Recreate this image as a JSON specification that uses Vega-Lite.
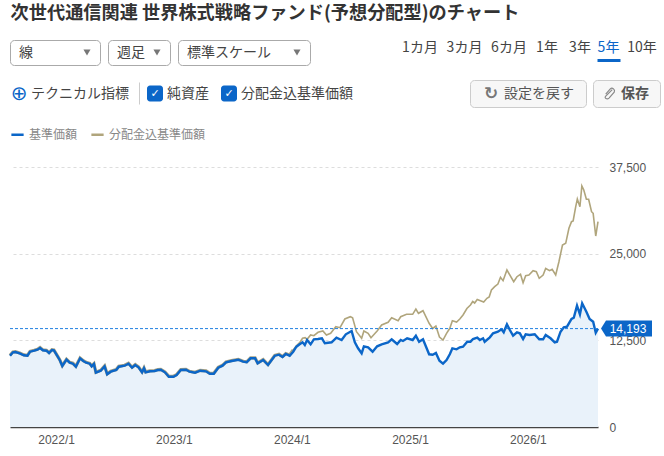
{
"$schema": "https://vega.github.io/schema/vega-lite/v6.json",
"padding": {"left": 3, "top": 4, "right": 0, "bottom": 0},
"background": "white",
"title": {"text": "次世代通信関連 世界株式戦略ファンド(予想分配型)のチャート", "anchor": "start", "font": "Noto Sans CJK JP", "fontSize": 18.2, "fontWeight": "bold", "color": "#333333", "offset": 16, "dx": 7},
"config": {
  "view": {"stroke": null},
  "font": "Noto Sans CJK JP",
  "text": {"font": "Noto Sans CJK JP", "fontSize": 14, "color": "#444444"},
  "axis": {"labelFont": "Liberation Sans", "labelFontSize": 12, "labelColor": "#555555"}
},
"datasets": {
  "base": [
    {"date":"2021-08-02","value":10284},{"date":"2021-08-11","value":10774},{"date":"2021-08-19","value":10817},{"date":"2021-09-01","value":10630},{"date":"2021-09-14","value":10341},{"date":"2021-09-25","value":10284},{"date":"2021-10-03","value":10861},{"date":"2021-10-16","value":11005},{"date":"2021-10-26","value":11149},{"date":"2021-11-03","value":11394},{"date":"2021-11-12","value":11062},{"date":"2021-11-23","value":11005},{"date":"2021-12-01","value":10673},{"date":"2021-12-10","value":11106},{"date":"2021-12-16","value":11062},{"date":"2021-12-26","value":10284},
    {"date":"2022-01-03","value":9663},{"date":"2022-01-11","value":8798},{"date":"2022-01-24","value":9707},{"date":"2022-02-03","value":9274},{"date":"2022-02-13","value":9130},{"date":"2022-02-22","value":8697},{"date":"2022-03-07","value":9909},{"date":"2022-03-17","value":9519},{"date":"2022-03-26","value":9274},{"date":"2022-04-06","value":9130},{"date":"2022-04-12","value":8755},{"date":"2022-04-19","value":9086},{"date":"2022-04-25","value":7832},{"date":"2022-05-10","value":8120},{"date":"2022-05-22","value":8755},{"date":"2022-05-30","value":7601},{"date":"2022-06-10","value":7976},{"date":"2022-06-27","value":8221},{"date":"2022-07-05","value":8697},{"date":"2022-07-23","value":8841},{"date":"2022-08-04","value":9130},{"date":"2022-08-15","value":8553},{"date":"2022-08-25","value":8942},{"date":"2022-09-04","value":8611},{"date":"2022-09-15","value":7889},{"date":"2022-09-21","value":8466},{"date":"2022-09-26","value":7889},{"date":"2022-10-09","value":8034},{"date":"2022-10-24","value":8077},{"date":"2022-11-03","value":8221},{"date":"2022-11-12","value":8264},{"date":"2022-11-25","value":7889},{"date":"2022-12-07","value":7255},{"date":"2022-12-21","value":7255},{"date":"2022-12-31","value":7500},
    {"date":"2023-01-13","value":8221},{"date":"2023-01-29","value":8264},{"date":"2023-02-09","value":7976},{"date":"2023-02-26","value":7832},{"date":"2023-03-14","value":8120},{"date":"2023-04-01","value":8034},{"date":"2023-04-13","value":7687},{"date":"2023-04-25","value":7687},{"date":"2023-05-09","value":8553},{"date":"2023-05-22","value":8841},{"date":"2023-06-02","value":9332},{"date":"2023-06-19","value":9519},{"date":"2023-07-10","value":9707},{"date":"2023-07-25","value":9418},{"date":"2023-08-05","value":9332},{"date":"2023-08-17","value":9909},{"date":"2023-08-31","value":9909},{"date":"2023-09-08","value":9187},{"date":"2023-09-25","value":9663},{"date":"2023-10-10","value":8942},{"date":"2023-10-31","value":10284},{"date":"2023-11-13","value":10428},{"date":"2023-11-24","value":10096},{"date":"2023-12-04","value":10529},{"date":"2023-12-16","value":10284},{"date":"2023-12-27","value":10861},
    {"date":"2024-01-06","value":11582},{"date":"2024-01-16","value":11928},{"date":"2024-01-25","value":12216},{"date":"2024-02-01","value":11827},{"date":"2024-02-08","value":12548},{"date":"2024-02-19","value":11928},{"date":"2024-02-29","value":12649},{"date":"2024-03-13","value":12692},{"date":"2024-03-25","value":12793},{"date":"2024-04-03","value":12072},{"date":"2024-04-24","value":12216},{"date":"2024-05-09","value":12880},{"date":"2024-05-25","value":12548},{"date":"2024-06-07","value":13370},{"date":"2024-06-25","value":13846},{"date":"2024-07-05","value":12216},{"date":"2024-07-15","value":11351},{"date":"2024-07-26","value":10630},{"date":"2024-08-02","value":11639},{"date":"2024-08-15","value":11495},{"date":"2024-08-29","value":10861},{"date":"2024-09-12","value":11639},{"date":"2024-09-26","value":11928},{"date":"2024-10-16","value":12216},{"date":"2024-10-27","value":12649},{"date":"2024-11-13","value":11971},{"date":"2024-11-24","value":12548},{"date":"2024-12-01","value":12404},{"date":"2024-12-14","value":12793},{"date":"2024-12-31","value":12548},
    {"date":"2025-01-10","value":13168},{"date":"2025-01-20","value":12303},{"date":"2025-02-01","value":12649},{"date":"2025-02-20","value":10486},{"date":"2025-03-03","value":10428},{"date":"2025-03-13","value":10673},{"date":"2025-03-24","value":9562},{"date":"2025-04-04","value":9130},{"date":"2025-04-15","value":9663},{"date":"2025-04-25","value":10486},{"date":"2025-05-03","value":11351},{"date":"2025-05-16","value":11207},{"date":"2025-05-26","value":11495},{"date":"2025-06-05","value":11582},{"date":"2025-06-18","value":12303},{"date":"2025-06-28","value":12303},{"date":"2025-07-06","value":12692},{"date":"2025-07-19","value":12880},{"date":"2025-07-27","value":12548},{"date":"2025-08-06","value":12793},{"date":"2025-08-11","value":12303},{"date":"2025-08-27","value":12937},{"date":"2025-09-06","value":13514},{"date":"2025-09-21","value":13745},{"date":"2025-10-02","value":14091},{"date":"2025-10-09","value":13659},{"date":"2025-10-19","value":14812},{"date":"2025-10-28","value":13990},{"date":"2025-11-07","value":13168},{"date":"2025-11-19","value":13659},{"date":"2025-11-28","value":13514},{"date":"2025-12-08","value":12692},{"date":"2025-12-16","value":13370},{"date":"2025-12-28","value":13269},
    {"date":"2026-01-13","value":13370},{"date":"2026-01-27","value":12649},{"date":"2026-02-08","value":12649},{"date":"2026-02-16","value":13269},{"date":"2026-03-03","value":12793},{"date":"2026-03-16","value":12216},{"date":"2026-03-23","value":12303},{"date":"2026-04-03","value":13745},{"date":"2026-04-13","value":14380},{"date":"2026-04-23","value":14466},{"date":"2026-05-07","value":15577},{"date":"2026-05-14","value":15764},{"date":"2026-05-24","value":17495},{"date":"2026-06-02","value":16255},{"date":"2026-06-09","value":17841},{"date":"2026-06-22","value":16630},{"date":"2026-07-02","value":15577},{"date":"2026-07-13","value":15187},{"date":"2026-07-21","value":13601},{"date":"2026-07-28","value":14193}
  ],
  "total": [
    {"date":"2021-08-02","value":10340},{"date":"2021-08-11","value":10830},{"date":"2021-08-19","value":10875},{"date":"2021-09-01","value":10690},{"date":"2021-09-14","value":10400},{"date":"2021-09-25","value":10340},{"date":"2021-10-03","value":10920},{"date":"2021-10-16","value":11065},{"date":"2021-10-26","value":11210},{"date":"2021-11-03","value":11455},{"date":"2021-11-12","value":11120},{"date":"2021-11-23","value":11065},{"date":"2021-12-01","value":10730},{"date":"2021-12-10","value":11165},{"date":"2021-12-16","value":11120},{"date":"2021-12-26","value":10340},
    {"date":"2022-01-03","value":9720},{"date":"2022-01-11","value":8855},{"date":"2022-01-24","value":9765},{"date":"2022-02-03","value":9330},{"date":"2022-02-13","value":9190},{"date":"2022-02-22","value":8755},{"date":"2022-03-07","value":9965},{"date":"2022-03-17","value":9575},{"date":"2022-03-26","value":9330},{"date":"2022-04-06","value":9190},{"date":"2022-04-12","value":8815},{"date":"2022-04-19","value":9145},{"date":"2022-04-25","value":7890},{"date":"2022-05-10","value":8180},{"date":"2022-05-22","value":8815},{"date":"2022-05-30","value":7660},{"date":"2022-06-10","value":8035},{"date":"2022-06-27","value":8280},{"date":"2022-07-05","value":8755},{"date":"2022-07-23","value":8900},{"date":"2022-08-04","value":9190},{"date":"2022-08-15","value":8610},{"date":"2022-08-25","value":9000},{"date":"2022-09-04","value":8670},{"date":"2022-09-15","value":7945},{"date":"2022-09-21","value":8525},{"date":"2022-09-26","value":7945},{"date":"2022-10-09","value":8090},{"date":"2022-10-24","value":8135},{"date":"2022-11-03","value":8280},{"date":"2022-11-12","value":8320},{"date":"2022-11-25","value":7945},{"date":"2022-12-07","value":7315},{"date":"2022-12-21","value":7315},{"date":"2022-12-31","value":7560},
    {"date":"2023-01-13","value":8280},{"date":"2023-01-29","value":8320},{"date":"2023-02-09","value":8035},{"date":"2023-02-26","value":7890},{"date":"2023-03-14","value":8180},{"date":"2023-04-01","value":8090},{"date":"2023-04-13","value":7745},{"date":"2023-04-25","value":7745},{"date":"2023-05-09","value":8610},{"date":"2023-05-22","value":8900},{"date":"2023-06-02","value":9390},{"date":"2023-06-19","value":9575},{"date":"2023-07-10","value":9765},{"date":"2023-07-25","value":9475},{"date":"2023-08-05","value":9390},{"date":"2023-08-17","value":9965},{"date":"2023-08-31","value":9965},{"date":"2023-09-08","value":9245},{"date":"2023-09-25","value":9720},{"date":"2023-10-10","value":9000},{"date":"2023-10-31","value":10340},{"date":"2023-11-13","value":10485},{"date":"2023-11-24","value":10155},{"date":"2023-12-04","value":10590},{"date":"2023-12-16","value":10400},{"date":"2023-12-27","value":11106},
    {"date":"2024-01-06","value":11726},{"date":"2024-01-16","value":12159},{"date":"2024-01-25","value":12793},{"date":"2024-02-02","value":12880},{"date":"2024-02-08","value":12649},{"date":"2024-02-19","value":13269},{"date":"2024-02-29","value":13168},{"date":"2024-03-13","value":13659},{"date":"2024-03-28","value":13846},{"date":"2024-04-08","value":13269},{"date":"2024-04-21","value":13514},{"date":"2024-05-07","value":14466},{"date":"2024-05-20","value":14322},{"date":"2024-06-04","value":15577},{"date":"2024-06-21","value":15909},{"date":"2024-06-28","value":15764},{"date":"2024-07-10","value":13745},{"date":"2024-07-26","value":12793},{"date":"2024-08-02","value":13846},{"date":"2024-08-15","value":13514},{"date":"2024-08-24","value":12880},{"date":"2024-09-12","value":13846},{"date":"2024-09-26","value":14711},{"date":"2024-10-16","value":15101},{"date":"2024-10-27","value":15764},{"date":"2024-11-16","value":15332},{"date":"2024-11-24","value":15909},{"date":"2024-12-12","value":16255},{"date":"2024-12-31","value":16255},
    {"date":"2025-01-10","value":17019},{"date":"2025-01-18","value":16399},{"date":"2025-02-01","value":16774},{"date":"2025-02-20","value":14957},{"date":"2025-03-03","value":14207},{"date":"2025-03-13","value":14567},{"date":"2025-03-24","value":12981},{"date":"2025-04-04","value":12548},{"date":"2025-04-15","value":13514},{"date":"2025-04-25","value":14235},{"date":"2025-05-03","value":15332},{"date":"2025-05-16","value":15144},{"date":"2025-05-26","value":15577},{"date":"2025-06-05","value":16154},{"date":"2025-06-17","value":17091},{"date":"2025-06-28","value":17596},{"date":"2025-07-05","value":18101},{"date":"2025-07-11","value":17885},{"date":"2025-07-19","value":18389},{"date":"2025-07-27","value":18245},{"date":"2025-08-08","value":18029},{"date":"2025-08-18","value":18562},{"date":"2025-08-25","value":18750},{"date":"2025-09-01","value":19760},{"date":"2025-09-11","value":20236},{"date":"2025-09-21","value":20625},{"date":"2025-09-29","value":21591},{"date":"2025-10-07","value":21101},{"date":"2025-10-19","value":22644},{"date":"2025-11-09","value":20956},{"date":"2025-11-19","value":21678},{"date":"2025-11-30","value":22024},{"date":"2025-12-08","value":20812},{"date":"2025-12-16","value":21822},{"date":"2025-12-26","value":21923},
    {"date":"2026-01-08","value":22543},{"date":"2026-01-18","value":22399},{"date":"2026-01-27","value":21447},{"date":"2026-02-08","value":21923},{"date":"2026-02-16","value":22860},{"date":"2026-02-28","value":22543},{"date":"2026-03-08","value":22745},{"date":"2026-03-19","value":21923},{"date":"2026-03-29","value":23841},{"date":"2026-04-09","value":26250},{"date":"2026-04-19","value":26495},{"date":"2026-04-29","value":28658},{"date":"2026-05-07","value":29610},{"date":"2026-05-12","value":29711},{"date":"2026-05-20","value":31774},{"date":"2026-05-25","value":32884},{"date":"2026-06-02","value":31774},{"date":"2026-06-08","value":34759},{"date":"2026-06-14","value":34183},{"date":"2026-06-22","value":32841},{"date":"2026-06-29","value":32841},{"date":"2026-07-08","value":31053},{"date":"2026-07-13","value":30822},{"date":"2026-07-21","value":27548},{"date":"2026-07-28","value":29610}
  ],
  "latest": [{"start":"2021-08-02","date":"2026-07-28","value":14193}]
},
"resolve": {"legend": {"stroke": "independent"}, "scale": {"stroke": "independent"}},
"bounds": "flush",
"spacing": 127,
"vconcat": [
  {"spacing": 40, "bounds": "flush", "vconcat": [
    {"spacing": 8, "bounds": "flush", "hconcat": [
      {"width": 90, "height": 25, "view": {"stroke": "#aaaaaa", "cornerRadius": 4}, "data": {"values": [{"label": "線"}]}, "layer": [
        {"mark": {"type": "text", "align": "left", "dx": -36}, "encoding": {"text": {"field": "label"}}},
        {"mark": {"type": "point", "shape": "triangle-down", "filled": true, "color": "#777777", "size": 50, "opacity": 1, "xOffset": 32}, "encoding": {}}
      ]},
      {"width": 62, "height": 25, "view": {"stroke": "#aaaaaa", "cornerRadius": 4}, "data": {"values": [{"label": "週足"}]}, "layer": [
        {"mark": {"type": "text", "align": "left", "dx": -22}, "encoding": {"text": {"field": "label"}}},
        {"mark": {"type": "point", "shape": "triangle-down", "filled": true, "color": "#777777", "size": 50, "opacity": 1, "xOffset": 18}, "encoding": {}}
      ]},
      {"width": 132, "height": 25, "view": {"stroke": "#aaaaaa", "cornerRadius": 4}, "data": {"values": [{"label": "標準スケール"}]}, "layer": [
        {"mark": {"type": "text", "align": "left", "dx": -57}, "encoding": {"text": {"field": "label"}}},
        {"mark": {"type": "point", "shape": "triangle-down", "filled": true, "color": "#777777", "size": 50, "opacity": 1, "xOffset": 53}, "encoding": {}}
      ]},
      {"spacing": 0, "bounds": "flush", "hconcat": [
        {"width": 124, "height": 20, "data": {"values": [{"label": "1カ月"}]}, "mark": {"type": "text", "dx": 40, "dy": -2}, "encoding": {"text": {"field": "label"}}},
        {"width": 45, "height": 20, "data": {"values": [{"label": "3カ月"}]}, "mark": {"type": "text", "dy": -2}, "encoding": {"text": {"field": "label"}}},
        {"width": 44, "height": 20, "data": {"values": [{"label": "6カ月"}]}, "mark": {"type": "text", "dy": -2}, "encoding": {"text": {"field": "label"}}},
        {"width": 32, "height": 20, "data": {"values": [{"label": "1年"}]}, "mark": {"type": "text", "dy": -2}, "encoding": {"text": {"field": "label"}}},
        {"width": 34, "height": 20, "data": {"values": [{"label": "3年"}]}, "mark": {"type": "text", "dy": -2}, "encoding": {"text": {"field": "label"}}},
        {"width": 23, "height": 20, "data": {"values": [{"label": "5年"}]}, "mark": {"type": "text", "dy": -2, "color": "#0b66c8"}, "encoding": {"text": {"field": "label"}, "x": {"field": "label", "type": "nominal", "title": null, "axis": {"labels": false, "ticks": false, "domainColor": "#0b66c8", "domainWidth": 3}}}},
        {"width": 44, "height": 20, "data": {"values": [{"label": "10年"}]}, "mark": {"type": "text", "dy": -2}, "encoding": {"text": {"field": "label"}}}
      ]}
    ]},
    {"spacing": 7, "center": true, "bounds": "flush", "hconcat": [
      {"width": 122, "height": 22, "data": {"values": [{"label": "テクニカル指標", "icon": "⊕"}]}, "layer": [
        {"mark": {"type": "text", "font": "DejaVu Sans", "fontSize": 20, "color": "#0b66c8", "dx": -52}, "encoding": {"text": {"field": "icon"}}},
        {"mark": {"type": "text", "align": "left", "dx": -40}, "encoding": {"text": {"field": "label"}}}
      ]},
      {"width": 1, "height": 22, "view": {"fill": "#cccccc"}, "data": {"values": [{"label": ""}]}, "mark": "text", "encoding": {"text": {"field": "label"}}},
      {"width": 16, "height": 16, "view": {"fill": "#0b66c8", "cornerRadius": 3}, "data": {"values": [{"label": "✓"}]}, "mark": {"type": "text", "font": "DejaVu Sans", "fontSize": 11, "fontWeight": "bold", "color": "white"}, "encoding": {"text": {"field": "label"}}},
      {"width": 44, "height": 22, "data": {"values": [{"label": "純資産"}]}, "mark": {"type": "text", "align": "left", "dx": -25}, "encoding": {"text": {"field": "label"}}},
      {"width": 16, "height": 16, "view": {"fill": "#0b66c8", "cornerRadius": 3}, "data": {"values": [{"label": "✓"}]}, "mark": {"type": "text", "font": "DejaVu Sans", "fontSize": 11, "fontWeight": "bold", "color": "white"}, "encoding": {"text": {"field": "label"}}},
      {"width": 219, "height": 22, "data": {"values": [{"label": "分配金込基準価額"}]}, "mark": {"type": "text", "align": "left", "dx": -112.5}, "encoding": {"text": {"field": "label"}}},
      {"width": 116, "height": 27, "view": {"fill": "#f7f7f7", "stroke": "#cccccc", "cornerRadius": 4}, "data": {"values": [{"label": "設定を戻す", "icon": "↻"}]}, "layer": [
        {"mark": {"type": "text", "font": "DejaVu Sans", "fontSize": 17, "fontWeight": "bold", "color": "#777777", "dx": -37}, "encoding": {"text": {"field": "icon"}}},
        {"mark": {"type": "text", "align": "left", "dx": -24, "color": "#555555"}, "encoding": {"text": {"field": "label"}}}
      ]},
      {"width": 67, "height": 27, "view": {"fill": "#f7f7f7", "stroke": "#cccccc", "cornerRadius": 4}, "data": {"values": [{"label": "保存"}]}, "layer": [
        {"mark": {"type": "point", "shape": "M0.5,-0.6 L-0.5,0.4 C-0.8,0.7 -0.3,1 0,0.7 L0.8,-0.2 C1,-0.6 0.5,-1 0.2,-0.7 L-0.5,0.1", "filled": false, "stroke": "#888888", "strokeWidth": 1.2, "opacity": 1, "size": 170, "xOffset": -17.5}, "encoding": {}},
        {"mark": {"type": "text", "align": "left", "dx": -5.5, "fontWeight": "bold", "color": "#555555"}, "encoding": {"text": {"field": "label"}}}
      ]}
    ]}
  ]},
  {
    "width": 588,
    "height": 260,
    "encoding": {
      "x": {"field": "date", "type": "temporal", "title": null,
        "scale": {"type": "utc", "domain": [{"year": 2021, "month": 8, "date": 2, "utc": true}, {"year": 2026, "month": 7, "date": 28, "utc": true}]},
        "axis": {"values": [{"year": 2022, "month": 1, "date": 1, "utc": true}, {"year": 2023, "month": 1, "date": 1, "utc": true}, {"year": 2024, "month": 1, "date": 1, "utc": true}, {"year": 2025, "month": 1, "date": 1, "utc": true}, {"year": 2026, "month": 1, "date": 1, "utc": true}], "labelExpr": "utcFormat(datum.value, '%Y/%-m')", "ticks": false, "grid": false, "domainColor": "#444444", "domainWidth": 1.5, "labelPadding": 7, "labelOffset": -3}},
      "y": {"field": "value", "type": "quantitative", "title": null, "scale": {"domain": [0, 37500]},
        "axis": {"orient": "right", "values": [0, 12500, 25000, 37500], "labelExpr": "format(datum.value, ',')", "domain": false, "ticks": false, "labelPadding": 11, "gridColor": "#dddddd", "gridDash": [3, 3]}}
    },
    "layer": [
      {"data": {"name": "base"}, "mark": {"type": "area", "color": "#e9f2fa"}},
      {"data": {"name": "total"}, "transform": [{"filter": "year(datum.date) < 2024"}], "mark": {"type": "line", "color": "#a8a285", "strokeWidth": 3.2}},
      {"data": {"name": "total"}, "mark": {"type": "line", "strokeWidth": 1.6}, "encoding": {
        "stroke": {"datum": "分配金込基準価額", "type": "nominal", "scale": {"domain": ["基準価額", "分配金込基準価額"], "range": ["#0b66c8", "#b0a57c"]},
          "legend": {"title": null, "orient": "top", "offset": 26, "padding": 0, "symbolType": "stroke", "symbolSize": 150, "symbolStrokeWidth": 2.5, "labelFont": "Noto Sans CJK JP", "labelFontSize": 12, "labelColor": "#888888", "labelOffset": 4, "columnPadding": 8}}
      }},
      {"data": {"name": "base"}, "mark": {"type": "line", "strokeWidth": 2.4}, "encoding": {
        "stroke": {"datum": "基準価額", "type": "nominal"}
      }},
      {"data": {"name": "latest"}, "mark": {"type": "rule", "color": "#1f7fe0", "strokeDash": [3, 2], "strokeWidth": 1}, "encoding": {
        "x": {"field": "start", "type": "temporal"},
        "x2": {"field": "date"}
      }},
      {"data": {"name": "latest"}, "mark": {"type": "point", "shape": "M0.06,0 L0.16,-0.16 L1.08,-0.16 L1.08,0.16 L0.16,0.16 Z", "filled": true, "color": "#0b66c8", "opacity": 1, "size": 10000}},
      {"data": {"name": "latest"}, "mark": {"type": "text", "font": "Liberation Sans", "fontSize": 12, "color": "white", "dx": 30}, "encoding": {
        "text": {"field": "value", "type": "quantitative", "format": ","}
      }}
    ]
  }
]
}
